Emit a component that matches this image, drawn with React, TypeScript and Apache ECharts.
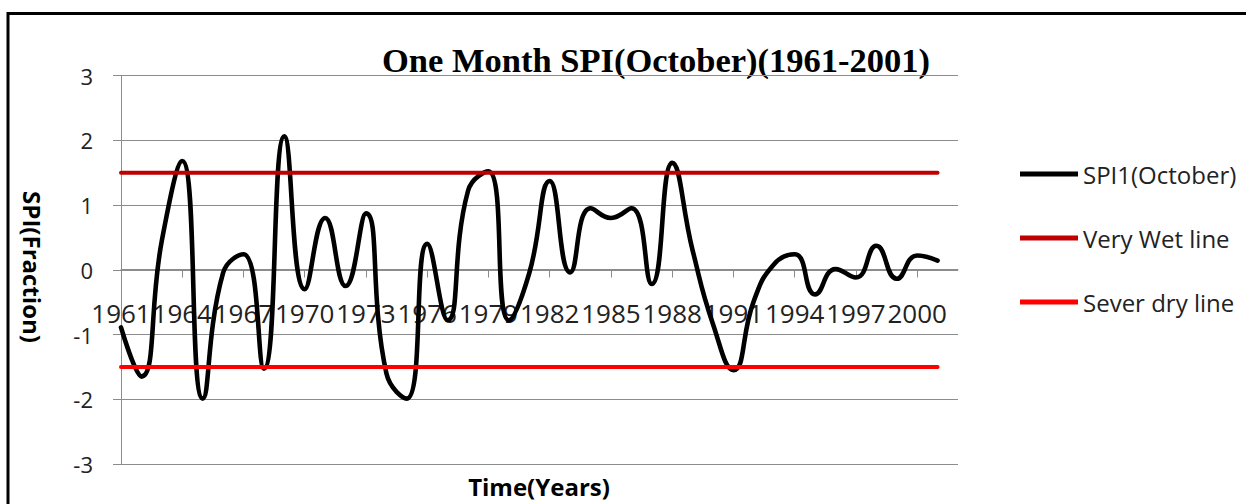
import React, { useEffect, useRef } from "react";
import * as echarts from "echarts";

const years = [
  "1961", "1962", "1963", "1964", "1965", "1966", "1967", "1968", "1969", "1970",
  "1971", "1972", "1973", "1974", "1975", "1976", "1977", "1978", "1979", "1980",
  "1981", "1982", "1983", "1984", "1985", "1986", "1987", "1988", "1989", "1990",
  "1991", "1992", "1993", "1994", "1995", "1996", "1997", "1998", "1999", "2000",
  "2001", "",
];

const spi1October = [
  -0.89, -1.65, 0.45, 1.68, -1.99, -0.05, 0.24, -1.53, 2.06, -0.3,
  0.8, -0.25, 0.87, -1.6, -1.99, 0.4, -0.78, 1.22, 1.52, -0.78,
  -0.05, 1.37, -0.04, 0.95, 0.8, 0.95, -0.22, 1.65, 0.3, -0.84,
  -1.55, -0.48, 0.09, 0.24, -0.38, 0.01, -0.12, 0.37, -0.14, 0.22,
  0.14,
];

const veryWetLine = [
  1.5, 1.5, 1.5, 1.5, 1.5, 1.5, 1.5, 1.5, 1.5, 1.5,
  1.5, 1.5, 1.5, 1.5, 1.5, 1.5, 1.5, 1.5, 1.5, 1.5,
  1.5, 1.5, 1.5, 1.5, 1.5, 1.5, 1.5, 1.5, 1.5, 1.5,
  1.5, 1.5, 1.5, 1.5, 1.5, 1.5, 1.5, 1.5, 1.5, 1.5,
  1.5,
];

const severDryLine = [
  -1.5, -1.5, -1.5, -1.5, -1.5, -1.5, -1.5, -1.5, -1.5, -1.5,
  -1.5, -1.5, -1.5, -1.5, -1.5, -1.5, -1.5, -1.5, -1.5, -1.5,
  -1.5, -1.5, -1.5, -1.5, -1.5, -1.5, -1.5, -1.5, -1.5, -1.5,
  -1.5, -1.5, -1.5, -1.5, -1.5, -1.5, -1.5, -1.5, -1.5, -1.5,
  -1.5,
];

const seriesNames = ["SPI1(October)", "Very Wet line", "Sever dry line"];
const titleText = "One Month SPI(October)(1961-2001)";
const xName = "Time(Years)";
const yName = "SPI(Fraction)";

const SANS = "'Open Sans', 'DejaVu Sans', sans-serif";
const GRID = "#8c8c8c";

export default function App() {
  const ref = useRef<HTMLDivElement>(null);

  useEffect(() => {
    if (!ref.current) return;
    const chart = echarts.init(ref.current, null, { renderer: "svg" });
    chart.setOption({
      animation: false,
      backgroundColor: "#ffffff",
      grid: {
        left: 121,
        right: 288,
        top: 75.5,
        bottom: 40,
        containLabel: false,
        outerBoundsMode: "none",
      },
      legend: {
        data: seriesNames,
        orient: "vertical",
        left: 1020,
        top: 159,
        padding: 0,
        itemWidth: 58,
        itemHeight: 5,
        itemGap: 34,
        icon: "rect",
        selectedMode: false,
        textStyle: { fontFamily: SANS, fontSize: 24, lineHeight: 30, color: "#222" },
      },
      xAxis: {
        type: "category",
        data: years,
        boundaryGap: false,
        position: "bottom",
        offset: -194.5,
        axisLine: { onZero: false, lineStyle: { color: GRID, width: 1 } },
        axisTick: { show: true, interval: 2, length: 8, lineStyle: { color: GRID } },
        axisLabel: {
          interval: 2,
          margin: 30,
          fontFamily: SANS,
          fontSize: 26,
          color: "#222",
        },
        splitLine: { show: false },
      },
      yAxis: {
        type: "value",
        min: -3,
        max: 3,
        interval: 1,
        axisLine: { show: true, lineStyle: { color: GRID, width: 1 } },
        axisTick: { show: true, length: 8, lineStyle: { color: GRID } },
        axisLabel: { margin: 28, fontFamily: SANS, fontSize: 22, color: "#222" },
        splitLine: { show: true, lineStyle: { color: GRID, width: 1 } },
      },
      series: [
        {
          name: seriesNames[0],
          type: "line",
          data: spi1October,
          smooth: true,
          showSymbol: false,
          color: "#000000",
          lineStyle: { color: "#000000", width: 4.6, cap: "round", join: "round" },
          z: 2,
        },
        {
          name: seriesNames[1],
          type: "line",
          data: veryWetLine,
          showSymbol: false,
          color: "#C00000",
          lineStyle: { color: "#C00000", width: 4, cap: "round" },
          z: 3,
        },
        {
          name: seriesNames[2],
          type: "line",
          data: severDryLine,
          showSymbol: false,
          color: "#FF0000",
          lineStyle: { color: "#FF0000", width: 4, cap: "round" },
          z: 3,
        },
      ],
      graphic: [
        {
          type: "rect",
          shape: { x: 8, y: 13.5, width: 1400, height: 700 },
          style: { fill: "none", stroke: "#000", lineWidth: 3 },
          silent: true,
        },
        {
          type: "text",
          x: 656,
          y: 60,
          style: {
            text: titleText,
            fontFamily: "'Liberation Serif', 'Times New Roman', serif",
            fontWeight: "bold",
            fontSize: 34.5,
            fill: "#000",
            align: "center",
            verticalAlign: "middle",
          },
        },
        {
          type: "text",
          x: 539,
          y: 486,
          style: {
            text: xName,
            fontFamily: SANS,
            fontWeight: "bold",
            fontSize: 24,
            fill: "#000",
            align: "center",
            verticalAlign: "middle",
          },
        },
        {
          type: "text",
          x: 32,
          y: 267,
          rotation: -Math.PI / 2,
          style: {
            text: yName,
            fontFamily: SANS,
            fontWeight: "bold",
            fontSize: 24,
            fill: "#000",
            align: "center",
            verticalAlign: "middle",
          },
        },
      ],
    });
    return () => chart.dispose();
  }, []);

  return (
    <div
      ref={ref}
      style={{ position: "absolute", left: 0, top: 0, width: 1246, height: 504 }}
    />
  );
}
